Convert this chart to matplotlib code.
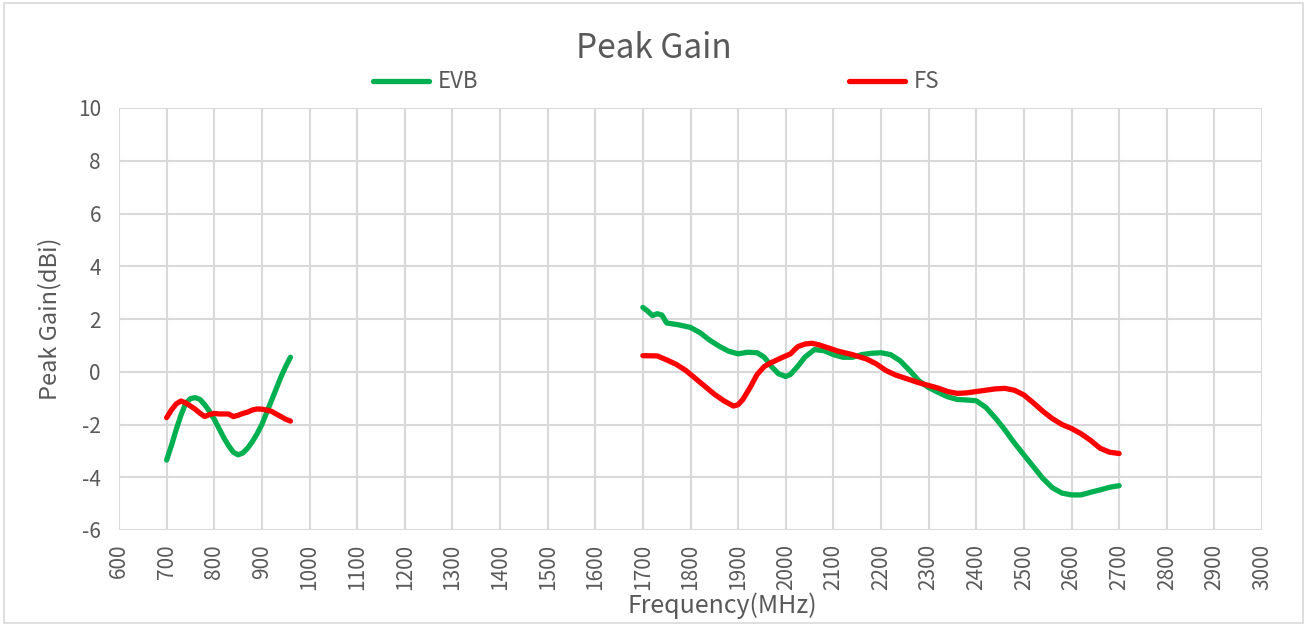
import matplotlib
matplotlib.use("Agg")
import matplotlib.pyplot as plt
from matplotlib.patches import Rectangle

plt.rcParams['font.family'] = ['Noto Sans CJK SC', 'DejaVu Sans']

# ---- data ----
evb_low_x = [700, 710, 720, 730, 740, 750, 760, 770, 780, 790, 800, 810, 820, 830, 840,
             850, 860, 870, 880, 890, 900, 910, 920, 930, 940, 950, 960]
evb_low_y = [-3.35, -2.8, -2.2, -1.65, -1.2, -1.02, -0.98, -1.05, -1.25, -1.5, -1.8, -2.15,
             -2.5, -2.8, -3.05, -3.15, -3.08, -2.9, -2.65, -2.35, -2.0, -1.55, -1.1, -0.65,
             -0.2, 0.2, 0.55]
fs_low_x = evb_low_x
fs_low_y = [-1.74, -1.45, -1.22, -1.11, -1.18, -1.3, -1.42, -1.57, -1.70, -1.62, -1.58, -1.6,
            -1.6, -1.6, -1.7, -1.65, -1.58, -1.53, -1.45, -1.41, -1.42, -1.45, -1.5, -1.6,
            -1.7, -1.8, -1.87]

evb_high_x = [1700, 1710, 1720, 1730, 1740, 1750, 1775, 1800, 1820, 1840, 1860, 1880, 1900,
              1920, 1940, 1955, 1970, 1985, 2000, 2010, 2025, 2040, 2060, 2080, 2100, 2120,
              2140, 2160, 2180, 2200, 2220, 2240, 2260, 2280, 2300, 2320, 2340, 2360, 2380,
              2400, 2420, 2440, 2460, 2480, 2500, 2520, 2540, 2560, 2580, 2600, 2620, 2640,
              2660, 2680, 2700]
evb_high_y = [2.44, 2.3, 2.13, 2.2, 2.15, 1.85, 1.78, 1.68, 1.48, 1.2, 0.97, 0.78, 0.68,
              0.74, 0.72, 0.55, 0.2, -0.08, -0.18, -0.1, 0.2, 0.55, 0.84, 0.8, 0.65, 0.55,
              0.55, 0.65, 0.7, 0.72, 0.65, 0.42, 0.05, -0.35, -0.6, -0.78, -0.95, -1.05,
              -1.07, -1.1, -1.35, -1.75, -2.2, -2.7, -3.15, -3.6, -4.05, -4.4, -4.6, -4.67,
              -4.67, -4.57, -4.48, -4.38, -4.32]

fs_high_x = [1700, 1730, 1750, 1770, 1790, 1810, 1830, 1850, 1870, 1890, 1900, 1910, 1925,
             1940, 1955, 1970, 1990, 2010, 2025, 2040, 2055, 2070, 2090, 2110, 2140, 2170,
             2190, 2210, 2230, 2260, 2280, 2300, 2320, 2340, 2360, 2380, 2400, 2420, 2440,
             2460, 2480, 2500, 2520, 2540, 2560, 2580, 2600, 2620, 2640, 2660, 2680, 2700]
fs_high_y = [0.61, 0.6, 0.45, 0.28, 0.05, -0.25, -0.55, -0.85, -1.1, -1.3, -1.25, -1.05,
             -0.6, -0.1, 0.2, 0.35, 0.52, 0.68, 0.95, 1.05, 1.08, 1.02, 0.9, 0.78, 0.65,
             0.48, 0.3, 0.05, -0.12, -0.3, -0.42, -0.52, -0.62, -0.75, -0.82, -0.8, -0.75,
             -0.7, -0.65, -0.63, -0.7, -0.88, -1.18, -1.5, -1.78, -2.0, -2.15, -2.35, -2.6,
             -2.9, -3.05, -3.1]

x_ticks = list(range(600, 3001, 100))
y_ticks = list(range(-6, 11, 2))

GREEN = '#00B050'
RED = '#FF0000'
TXT = '#595959'
GRID = '#D9D9D9'

fig = plt.figure(figsize=(13.07, 6.25), dpi=100)
fig.patches.append(Rectangle((0.003, 0.004), 0.994, 0.991, transform=fig.transFigure,
                             fill=False, edgecolor='#D9D9D9', linewidth=1.2))
ax = fig.add_axes([119/1307, 1-530/625, (1262-119)/1307, (530-108)/625])

lw = 3.8
kw = dict(lw=lw, solid_joinstyle='round', solid_capstyle='round')
l1, = ax.plot(evb_low_x, evb_low_y, color=GREEN, label='EVB', zorder=3, **kw)
ax.plot(evb_high_x, evb_high_y, color=GREEN, zorder=3, **kw)
l2, = ax.plot(fs_low_x, fs_low_y, color=RED, label='FS', zorder=4, **kw)
ax.plot(fs_high_x, fs_high_y, color=RED, zorder=4, **kw)

ax.set_xlim(600, 3000)
ax.set_ylim(-6, 10)
ax.set_xticks(x_ticks)
ax.set_yticks(y_ticks)
ax.set_xticklabels([str(v) for v in x_ticks], rotation=90, fontsize=15, color=TXT)
ax.set_yticklabels([str(v) for v in y_ticks], fontsize=15, color=TXT)
ax.tick_params(axis='x', length=0, pad=10)
ax.tick_params(axis='y', length=0, pad=13)
ax.grid(True, color=GRID, linewidth=1.5)
ax.set_axisbelow(True)
for s in ax.spines.values():
    s.set_visible(False)

ax.set_xlabel('Frequency(MHz)', fontsize=18, color=TXT)
ax.xaxis.set_label_coords((722-119)/1143, (530-606)/422)
ax.xaxis.label.set_va('center')
ax.set_ylabel('Peak Gain(dBi)', fontsize=17, color=TXT)
ax.yaxis.set_label_coords((50-119)/1143, 0.5)
ax.yaxis.label.set_va('center')
fig.text(0.5, 1-48/625, 'Peak Gain', ha='center', va='center', fontsize=24, color=TXT)

leg = fig.legend(handles=[l1, l2], loc='center', bbox_to_anchor=(0.502, 1-82/625), ncol=2,
                 frameon=False, prop={'size': 16}, handlelength=2.5,
                 columnspacing=16.7, labelcolor=TXT, handletextpad=0.4)

fig.savefig('out.png', dpi=100)
